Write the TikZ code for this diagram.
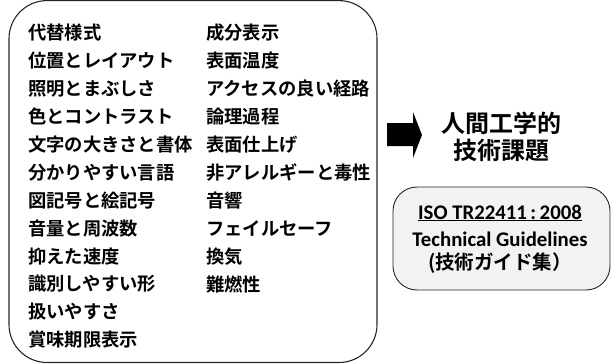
\documentclass[tikz,border=0pt]{standalone}
\usepackage{fontspec}
\newfontfamily\jpb{Noto Sans CJK JP Bold}
\newfontfamily\lat{Carlito}[BoldFont={Carlito Bold}]
\begin{document}
\begin{tikzpicture}[x=1pt,y=-1pt,
  item/.style={anchor=west,inner sep=0pt,font=\jpb\fontsize{18.3}{20}\selectfont},
  bigbox/.style={draw=black!85,line width=1.1pt,rounded corners=38pt},
  isobox/.style={draw=black!85,line width=0.9pt,fill=black!5,rounded corners=24pt}]
\useasboundingbox (0,0) rectangle (611,364);
\draw[bigbox] (9,0.6) rectangle (377,362.5);
\foreach \t [count=\i from 0] in {代替様式,位置とレイアウト,照明とまぶしさ,色とコントラスト,文字の大きさと書体,分かりやすい言語,図記号と絵記号,音量と周波数,抑えた速度,識別しやすい形,扱いやすさ,賞味期限表示}
  \node[item] (l\i) at (28,33+27.9*\i) {\t};
\foreach \t [count=\i from 0] in {成分表示,表面温度,アクセスの良い経路,論理過程,表面仕上げ,非アレルギーと毒性,音響,フェイルセーフ,換気,難燃性}
  \node[item] (r\i) at (206,33+27.9*\i) {\t};
\fill[black] (387,123) -- (413,123) -- (413,112) -- (422,135) -- (413,158) -- (413,146) -- (387,146) -- cycle;
\node[inner sep=0pt,align=center,font=\jpb\fontsize{24}{27}\selectfont] (title) at (501,136.5) {人間工学的\\技術課題};
\draw[isobox] (393,187) rectangle (610,290);
\node[inner sep=0pt,font=\lat\bfseries\fontsize{20.8}{24}\selectfont] (iso) at (500,213) {\underline{ISO TR22411\,:\,2008}};
\node[inner sep=0pt,text height=10pt,text depth=2pt,font=\lat\bfseries\fontsize{20.8}{24}\selectfont] (tg) at (500,242) {Technical Guidelines};
\node[inner sep=0pt,text height=12pt,text depth=2pt,font=\jpb\fontsize{19.5}{22}\selectfont] (jp) at (500,264) {(技術ガイド集）};
\end{tikzpicture}
\end{document}
